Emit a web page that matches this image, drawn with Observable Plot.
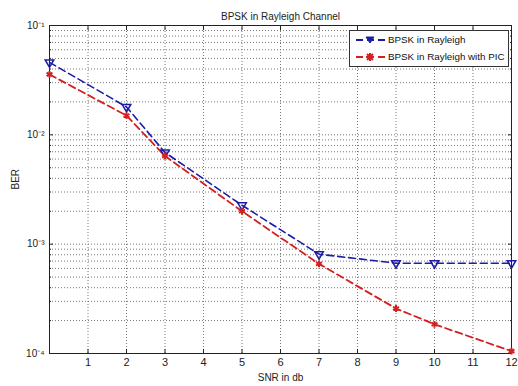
<!DOCTYPE html>
<html>
<head>
<meta charset="utf-8">
<script src="https://cdn.jsdelivr.net/npm/d3@7"></script>
<script src="https://cdn.jsdelivr.net/npm/@observablehq/plot@0.6"></script>
<style>
  html, body { margin: 0; padding: 0; background: #ffffff; }
  #wrap { position: relative; width: 518px; height: 386px; font-family: "Liberation Sans", Arial, sans-serif; }
  #legend { position: absolute; left: 349px; top: 30px; width: 158px; height: 35px; border: 1px solid #333; background: #fff; font-size: 9.8px; color: #111; box-sizing: content-box; white-space: nowrap; }
  .row { display: flex; align-items: center; height: 17px; padding-left: 5px; }
  .row svg { margin-right: 2px; flex: none; }
</style>
</head>
<body>
<div id="wrap"></div>
<script>
const snr = [0, 2, 3, 5, 7, 9, 10, 12];
const berRayleigh = [0.046, 0.018, 0.0069, 0.00227, 0.00081, 0.00067, 0.00067, 0.00067];
const berPIC = [0.0357, 0.015, 0.0064, 0.0020, 0.00066, 0.000258, 0.000185, 0.000105];
const seriesNames = ["BPSK in Rayleigh", "BPSK in Rayleigh with PIC"];
const xTicks = [1, 2, 3, 4, 5, 6, 7, 8, 9, 10, 11, 12];
const yMajor = [1e-4, 1e-3, 1e-2, 1e-1];
const yMajorLabels = ["10⁻⁴", "10⁻³", "10⁻²", "10⁻¹"];
const yMinor = [];
for (const d of [1e-4, 1e-3, 1e-2]) for (let m = 2; m <= 9; m++) yMinor.push(+(m * d).toPrecision(3));
const yGrid = yMajor.concat(yMinor);

const blue = "#1c1ca6";
const red = "#d42020";

const rows = snr.map((x, i) => ({x, y: berRayleigh[i], s: seriesNames[0]}));
const rows2 = snr.map((x, i) => ({x, y: berPIC[i], s: seriesNames[1]}));

const chart = Plot.plot({
  width: 518,
  height: 386,
  marginTop: 25,
  marginBottom: 33,
  marginLeft: 49,
  marginRight: 7,
  style: {fontFamily: "Liberation Sans, Arial, sans-serif", fontSize: "9px", background: "#fff", color: "#222"},
  x: {domain: [0, 12]},
  y: {type: "log", domain: [1e-4, 1e-1]},
  marks: [
    Plot.ruleX(xTicks, {stroke: "#777", strokeDasharray: "1,2", strokeWidth: 1}),
    Plot.ruleY(yGrid, {stroke: "#777", strokeDasharray: "1,2", strokeWidth: 1}),
    Plot.frame({stroke: "#222"}),
    Plot.axisX({ticks: xTicks, tickSize: -4, tickPadding: 9, tickFormat: d => String(d), label: null, fontSize: 11}),
    Plot.axisX({ticks: xTicks, anchor: "top", tickSize: -4, tickFormat: () => "", label: null}),
    Plot.axisY({ticks: yMajor, tickSize: -4, tickPadding: 9, tickFormat: (d, i) => yMajorLabels[yMajor.indexOf(d)], label: null, fontSize: 10}),
    Plot.axisY({ticks: yMinor, tickSize: -2, tickFormat: () => "", label: null}),
    Plot.axisY({ticks: yMajor, anchor: "right", tickSize: -4, tickFormat: () => "", label: null}),
    Plot.axisY({ticks: yMinor, anchor: "right", tickSize: -2, tickFormat: () => "", label: null}),
    Plot.line(rows, {x: "x", y: "y", stroke: blue, strokeWidth: 1.6, strokeDasharray: "7,4"}),
    Plot.line(rows2, {x: "x", y: "y", stroke: red, strokeWidth: 1.8, strokeDasharray: "7,4"}),
    Plot.dot(rows, {x: "x", y: "y", symbol: "triangle", rotate: 180, r: 3.2, stroke: blue, strokeWidth: 1.5, fill: "none"}),
    Plot.dot(rows2, {x: "x", y: "y", symbol: "asterisk", r: 3.2, stroke: red, strokeWidth: 2}),
    Plot.text(["BPSK in Rayleigh Channel"], {frameAnchor: "top", dy: -13, fontSize: 10, fill: "#222"}),
    Plot.text(["SNR in db"], {frameAnchor: "bottom", dy: 27, fontSize: 10, fill: "#222"}),
    Plot.text(["BER"], {frameAnchor: "left", dx: -34, rotate: -90, fontSize: 10, fill: "#222"})
  ]
});
const wrap = document.getElementById("wrap");
wrap.appendChild(chart);

// legend
const legend = document.createElement("div");
legend.id = "legend";
const specs = [
  {name: seriesNames[0], color: blue, sym: "tri"},
  {name: seriesNames[1], color: red, sym: "star"}
];
for (const s of specs) {
  const row = document.createElement("div");
  row.className = "row";
  const marker = s.sym === "tri"
    ? `<path d="M11,3 L19,3 L15,9 Z" fill="${s.color}" stroke="${s.color}" stroke-width="1"/>`
    : `<path d="M15,2 L15,10 M11,6 L19,6 M12,3 L18,9 M18,3 L12,9" stroke="${s.color}" stroke-width="2"/>`;
  row.innerHTML = `<svg width="31" height="12"><line x1="1" y1="6" x2="30" y2="6" stroke="${s.color}" stroke-width="1.8" stroke-dasharray="7,4"/>${marker}</svg><span>${s.name}</span>`;
  legend.appendChild(row);
}
wrap.appendChild(legend);
</script>
</body>
</html>
